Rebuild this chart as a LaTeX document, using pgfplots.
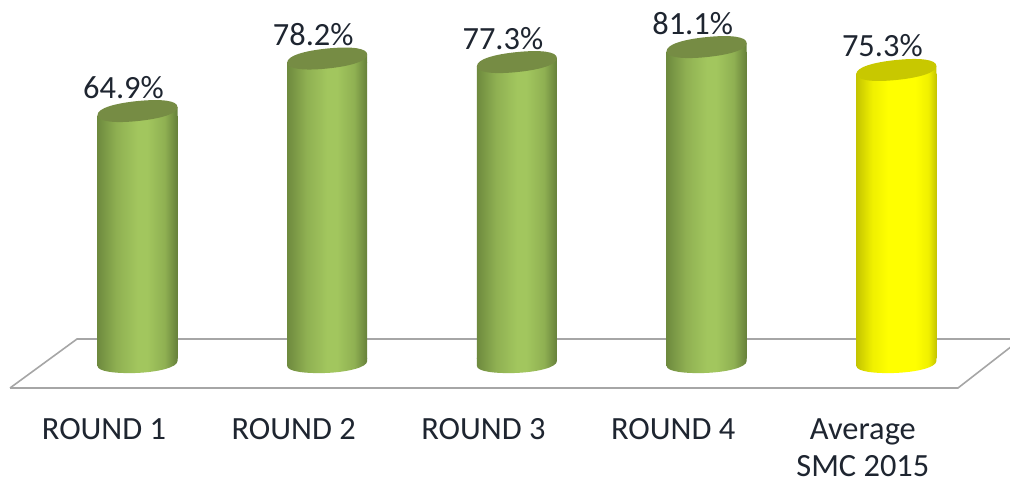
\documentclass[border=0pt]{standalone}
\usepackage{fontspec}
\setmainfont{Carlito}
\usepackage{pgfplots}
\pgfplotsset{compat=1.18}
\definecolor{gEdgeL}{HTML}{6E8A3E}
\definecolor{gMid}{HTML}{8FB052}
\definecolor{gLight}{HTML}{A2C65E}
\definecolor{gEdgeR}{HTML}{66803A}
\definecolor{gTop}{HTML}{768C44}
\definecolor{yEdge}{HTML}{C4C400}
\definecolor{yMid}{HTML}{F0F000}
\definecolor{yLight}{HTML}{FFFF00}
\definecolor{yTop}{HTML}{C8C800}
\definecolor{floorline}{HTML}{A6A6A6}
\definecolor{labeltext}{HTML}{1E2530}
\pgfdeclarehorizontalshading{cylg}{100bp}{color(0bp)=(gEdgeL); color(25bp)=(gEdgeL); color(37bp)=(gMid); color(50bp)=(gLight); color(56bp)=(gLight); color(67bp)=(gMid); color(75bp)=(gEdgeR); color(100bp)=(gEdgeR)}
\pgfdeclarehorizontalshading{cyly}{100bp}{color(0bp)=(yEdge); color(25bp)=(yEdge); color(35bp)=(yMid); color(45bp)=(yLight); color(62bp)=(yLight); color(70bp)=(yMid); color(75bp)=(yEdge); color(100bp)=(yEdge)}
% top and bottom caps of the cylinders
\newcommand{\declarecaps}[3]{%
  \pgfdeclareplotmark{captop#1}{%
    \path[draw=none, shade, shading=#2] (-40pt,0pt) -- (40pt,0pt) -- (40pt,8pt) -- cycle;
    \fill[draw=none, #3] (-40pt,0pt) .. controls (-40pt,6.5pt) and (-24pt,11.6pt) .. (0pt,14pt)
      .. controls (24pt,16.4pt) and (40pt,14.5pt) .. (40pt,8pt)
      .. controls (40pt,1.5pt) and (24pt,-3.6pt) .. (0pt,-6pt)
      .. controls (-24pt,-8.4pt) and (-40pt,-6.5pt) .. (-40pt,0pt) -- cycle;
  }%
  \pgfdeclareplotmark{capbot#1}{%
    \path[draw=none, shade, shading=#2] (-40pt,1pt) -- (-40pt,-7pt)
      .. controls (-40pt,-12.5pt) and (-22pt,-14.6pt) .. (-2pt,-14pt)
      .. controls (20pt,-13.2pt) and (40pt,-8.5pt) .. (40pt,-2pt) -- (40pt,1pt) -- cycle;
  }%
}
\declarecaps{g}{cylg}{gTop}
\declarecaps{y}{cyly}{yTop}
\begin{document}
\begin{tikzpicture}
\useasboundingbox (0,0) rectangle (1010pt,481pt);
% floor of the chart, in pixel units
\begin{axis}[at={(0,0)}, anchor=south west, scale only axis, width=1010pt, height=481pt,
  xmin=0, xmax=1010, ymin=0, ymax=481, y dir=reverse, hide axis]
\addplot[draw=floorline, line width=1.6pt, fill=white] coordinates
  {(10,388) (77,339) (1021,339) (958,388) (10,388)};
\end{axis}
% bars
\begin{axis}[at={(0,122pt)}, anchor=south west, scale only axis, width=1010pt, height=359pt,
  xmin=-0.7248, xmax=4.599, ymin=3.14, ymax=94.03,
  axis line style={draw=none}, tick style={draw=none}, ytick=\empty,
  xtick={0,1,2,3,4},
  xticklabels={ROUND 1,ROUND 2,ROUND 3,ROUND 4,{Average\\SMC 2015}},
  xticklabel style={align=center, anchor=north, inner sep=0pt, xshift=-33.5pt, yshift=-59.5pt,
     text=labeltext, font=\fontsize{32.4}{37}\selectfont},
  /pgf/number format/assume math mode=true]
\addplot[ybar, bar width=80pt, bar shift=0pt, draw=none, shade, shading=cylg] coordinates {(0,64.9)};
\addplot[ybar, bar width=80pt, bar shift=0pt, draw=none, shade, shading=cylg] coordinates {(1,78.2)};
\addplot[ybar, bar width=80pt, bar shift=0pt, draw=none, shade, shading=cylg] coordinates {(2,77.3)};
\addplot[ybar, bar width=80pt, bar shift=0pt, draw=none, shade, shading=cylg] coordinates {(3,81.1)};
\addplot[ybar, bar width=80pt, bar shift=0pt, draw=none, shade, shading=cyly] coordinates {(4,75.3)};
\addplot[only marks, mark=capbotg, forget plot] coordinates {(0,3.14) (1,3.14) (2,3.14) (3,3.14)};
\addplot[only marks, mark=capboty, forget plot] coordinates {(4,3.14)};
\addplot[only marks, mark=captopg, nodes near coords={\pgfmathprintnumber[fixed,fixed zerofill,precision=1]{\pgfplotspointmeta}\%},
  nodes near coords style={anchor=base, xshift=-14pt, yshift=17pt, text=labeltext, font=\fontsize{32.4}{37}\selectfont}]
  coordinates {(0,64.9) (1,78.2) (2,77.3) (3,81.1)};
\addplot[only marks, mark=captopy, nodes near coords={\pgfmathprintnumber[fixed,fixed zerofill,precision=1]{\pgfplotspointmeta}\%},
  nodes near coords style={anchor=base, xshift=-14pt, yshift=17pt, text=labeltext, font=\fontsize{32.4}{37}\selectfont}]
  coordinates {(4,75.3)};
\end{axis}
\end{tikzpicture}
\end{document}
